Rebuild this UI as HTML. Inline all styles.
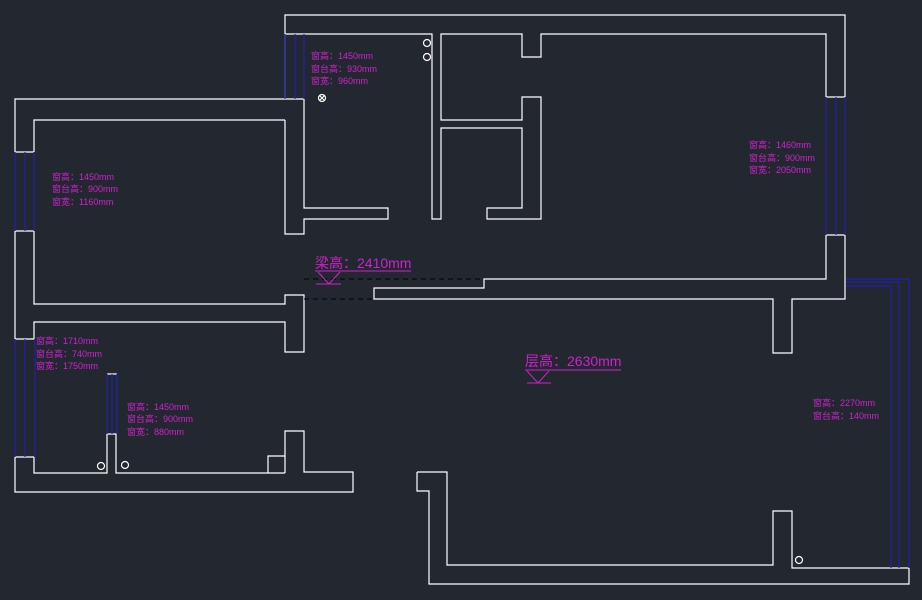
<!DOCTYPE html>
<html><head><meta charset="utf-8">
<style>
html,body{margin:0;padding:0;background:#232830;}
svg{display:block;}
text{font-family:"Liberation Sans","Noto Sans CJK SC",sans-serif;fill:#d020d0;}
.s{font-size:9px;}
</style></head><body>
<svg width="922" height="600" viewBox="0 0 922 600" xmlns="http://www.w3.org/2000/svg">
<rect width="922" height="600" fill="#232830"/>
<g fill="none" stroke="#ffffff" stroke-width="1.2">
<!-- top-left room outer/inner -->
<polyline points="285,99 15,99 15,152"/>
<polyline points="285,120 34,120 34,152"/>
<line x1="15" y1="152" x2="34" y2="152"/>
<line x1="15" y1="231" x2="34" y2="231"/>
<polyline points="15,231 15,339"/>
<polyline points="34,231 34,304 285,304 285,295 304,295 304,352 285,352 285,322 34,322 34,339"/>
<line x1="15" y1="339" x2="34" y2="339"/>
<line x1="15" y1="457" x2="34" y2="457"/>
<!-- x=285 wall -->
<polyline points="285,120 285,234 304,234 304,219 388,219 388,208 304,208 304,99"/>
<!-- top outline -->
<polyline points="285,99 285,15 845,15 845,97"/>
<polyline points="285,34 304,34"/>
<line x1="285" y1="99" x2="304" y2="99"/>
<polyline points="304,34 432,34 432,219 441,219 441,128 522,128 522,208 487,208 487,219 541,219 541,97 522,97 522,120 441,120 441,34 522,34 522,57 541,57 541,34 826,34 826,97"/>
<line x1="826" y1="97" x2="845" y2="97"/>
<line x1="826" y1="235" x2="845" y2="235"/>
<polyline points="826,235 826,279 484,279 484,288 374,288 374,299 773,299 773,353 792,353 792,299 845,299 845,235"/>
<!-- bottom-left -->
<polyline points="15,457 15,492 353,492 353,472 304,472 304,431 285,431 285,456 268,456 268,473 116,473 116,434 107,434 107,473 34,473 34,457"/>
<line x1="268" y1="473" x2="285" y2="473"/>
<line x1="285" y1="456" x2="285" y2="473"/>
<line x1="107" y1="374" x2="117" y2="374"/>
<!-- bottom-right -->
<polyline points="417,472 447,472 447,565 773,565 773,511 792,511 792,568 909,568 909,584 429,584 429,491 417,491 417,472"/>
<!-- circles -->
<circle cx="427" cy="43" r="3.5"/>
<circle cx="427" cy="57" r="3.5"/>
<circle cx="322" cy="98" r="3.5"/>
<line x1="319.5" y1="95.5" x2="324.5" y2="100.5"/>
<line x1="324.5" y1="95.5" x2="319.5" y2="100.5"/>
<circle cx="101" cy="466" r="3.5"/>
<circle cx="125" cy="465" r="3.5"/>
<circle cx="799" cy="560" r="3.5"/>
</g>
<!-- dashed beam lines -->
<g stroke="#000" stroke-width="1" stroke-dasharray="5,4">
<line x1="304" y1="279" x2="484" y2="279"/>
<line x1="304" y1="299" x2="374" y2="299"/>
</g>
<!-- windows -->
<g stroke="#2020b0" stroke-width="1.2" fill="none">
<line x1="285" y1="34" x2="285" y2="99"/><line x1="295" y1="34" x2="295" y2="99"/><line x1="304" y1="34" x2="304" y2="99"/>
<line x1="15" y1="152" x2="15" y2="231"/><line x1="25" y1="152" x2="25" y2="231"/><line x1="34" y1="152" x2="34" y2="231"/>
<line x1="15" y1="339" x2="15" y2="457"/><line x1="25" y1="339" x2="25" y2="457"/><line x1="35" y1="339" x2="35" y2="457"/>
<line x1="107" y1="374" x2="107" y2="434"/><line x1="112" y1="374" x2="112" y2="434"/><line x1="117" y1="374" x2="117" y2="434"/>
<line x1="826" y1="97" x2="826" y2="235"/><line x1="836" y1="97" x2="836" y2="235"/><line x1="845" y1="97" x2="845" y2="235"/>
<polyline points="846,279 909,279 909,568"/>
<polyline points="846,282 899,282 899,568"/>
<polyline points="846,286 891,286 891,568"/>
</g>
<!-- labels -->
<g class="s">
<text class="s" x="311" y="59">窗高：1450mm</text>
<text class="s" x="311" y="72">窗台高：930mm</text>
<text class="s" x="311" y="84">窗宽：960mm</text>
<text class="s" x="52" y="180">窗高：1450mm</text>
<text class="s" x="52" y="192">窗台高：900mm</text>
<text class="s" x="52" y="205">窗宽：1160mm</text>
<text class="s" x="749" y="148">窗高：1460mm</text>
<text class="s" x="749" y="161">窗台高：900mm</text>
<text class="s" x="749" y="173">窗宽：2050mm</text>
<text class="s" x="36" y="344">窗高：1710mm</text>
<text class="s" x="36" y="357">窗台高：740mm</text>
<text class="s" x="36" y="369">窗宽：1750mm</text>
<text class="s" x="127" y="410">窗高：1450mm</text>
<text class="s" x="127" y="422">窗台高：900mm</text>
<text class="s" x="127" y="435">窗宽：880mm</text>
<text class="s" x="813" y="406">窗高：2270mm</text>
<text class="s" x="813" y="419">窗台高：140mm</text>
</g>
<text x="315" y="268" font-size="14">梁高：2410mm</text>
<text x="525" y="366" font-size="14">层高：2630mm</text>
<g stroke="#d020d0" stroke-width="1" fill="none">
<line x1="315" y1="271" x2="411" y2="271"/>
<polyline points="318,272 329,284 340,272"/>
<line x1="316" y1="284" x2="341" y2="284"/>
<line x1="525" y1="370" x2="621" y2="370"/>
<polyline points="527,371 538,383 549,371"/>
<line x1="527" y1="383" x2="551" y2="383"/>
</g>
</svg>
</body></html>
